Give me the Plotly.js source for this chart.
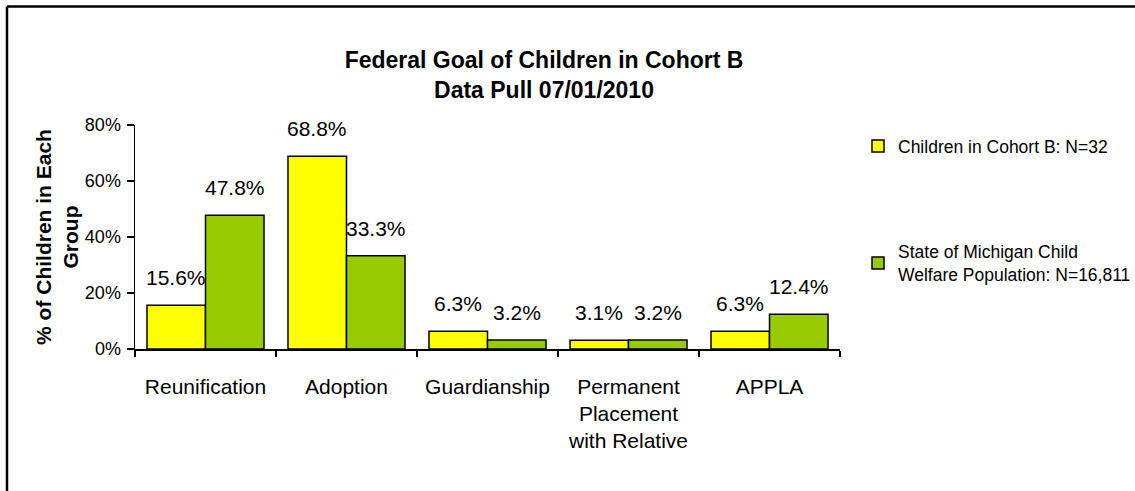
<!DOCTYPE html>
<html>
<head>
<meta charset="utf-8">
<script src="https://cdn.plot.ly/plotly-3.0.1.min.js"></script>
<style>html,body{margin:0;padding:0;background:#fff;} #chart{width:1135px;height:491px;}</style>
</head>
<body>
<div id="chart"></div>
<script>
const categories = ["Reunification", "Adoption", "Guardianship", "Permanent<br>Placement<br>with Relative", "APPLA"];
const cohortValues = [0.156, 0.688, 0.063, 0.031, 0.063];
const stateValues = [0.478, 0.333, 0.032, 0.032, 0.124];
const seriesNames = ["Children in Cohort B: N=32", "State of Michigan Child<br>Welfare Population: N=16,811"];
const yTickVals = [0, 0.2, 0.4, 0.6, 0.8];
const yTickText = ["0%", "20%", "40%", "60%", "80%"];

const F = "Arial, 'Liberation Sans', sans-serif";
const L = 135, R = 840, T = 125, B = 349;
const px = x => (x - L) / (R - L);
const py = y => (B - y) / (B - T);
const BARGAP = 0.17;
const half = (1 - BARGAP) / 4;

const series = [
  {name: seriesNames[0], values: cohortValues, color: '#FFFF00', group: 'a', offset: -half},
  {name: seriesNames[1], values: stateValues, color: '#99CC00', group: 'b', offset: half}
];

const traces = series.map(s => ({
  type: 'bar', x: categories, y: s.values, name: s.name, legendgroup: s.group,
  marker: {color: s.color, line: {color: '#000', width: 1.5}},
  hoverinfo: 'skip'
}));

const annotations = [];
series.forEach(s => {
  s.values.forEach((v, i) => {
    annotations.push({
      xref: 'x', yref: 'y', x: i + s.offset, y: v,
      text: (v * 100).toFixed(1) + '%', showarrow: false,
      yanchor: 'bottom', xanchor: 'center', yshift: 14,
      font: {family: F, size: 21, color: '#000'}
    });
  });
});

const layout = {
  width: 1135, height: 491,
  margin: {l: L, r: 1135 - R, t: T, b: 491 - B, pad: 0, autoexpand: false},
  paper_bgcolor: '#fff', plot_bgcolor: '#fff',
  barmode: 'group', bargap: BARGAP, bargroupgap: 0,
  showlegend: true,
  font: {family: F, color: '#000'},
  title: {
    text: '<b>Federal Goal of Children in Cohort B<br>Data Pull 07/01/2010</b>',
    font: {family: F, size: 23, color: '#000'},
    x: 544 / 1135, xanchor: 'center', xref: 'container',
    y: 1 - 68 / 491, yanchor: 'middle', yref: 'container'
  },
  xaxis: {
    type: 'category', showgrid: false, zeroline: false,
    range: [-0.5, categories.length - 0.5],
    showline: true, linecolor: '#000', linewidth: 1.5,
    ticks: 'outside', tickson: 'boundaries', ticklen: 6, tickcolor: '#000', tickwidth: 1.5,
    tickfont: {family: F, size: 21, color: '#000'},
    ticklabelstandoff: 18,
    fixedrange: true
  },
  yaxis: {
    range: [0, 0.8], showgrid: false, zeroline: false,
    showline: true, linecolor: '#000', linewidth: 1.5,
    ticks: 'outside', ticklen: 7, tickcolor: '#000', tickwidth: 1.5,
    tickvals: yTickVals, ticktext: yTickText,
    tickfont: {family: F, size: 18, color: '#000'},
    ticklabelstandoff: 2,
    title: {text: '<b>% of Children in Each<br>Group</b>', font: {family: F, size: 21, color: '#000'}, standoff: 0},
    fixedrange: true
  },
  legend: {
    x: px(858), xanchor: 'left', y: py(128), yanchor: 'top',
    font: {family: F, size: 17.5, color: '#000'},
    tracegroupgap: 80, bgcolor: 'rgba(0,0,0,0)', traceorder: 'grouped',
    itemclick: false
  },
  annotations: annotations,
  shapes: [
    {type: 'line', xref: 'paper', yref: 'paper', x0: px(7), x1: px(7), y0: py(491), y1: py(6.5), line: {color: '#000', width: 2.5}},
    {type: 'line', xref: 'paper', yref: 'paper', x0: px(7), x1: px(1140), y0: py(6.5), y1: py(6.5), line: {color: '#000', width: 2.5}}
  ]
};

Plotly.newPlot('chart', traces, layout, {displayModeBar: false, staticPlot: true});
</script>
</body>
</html>
